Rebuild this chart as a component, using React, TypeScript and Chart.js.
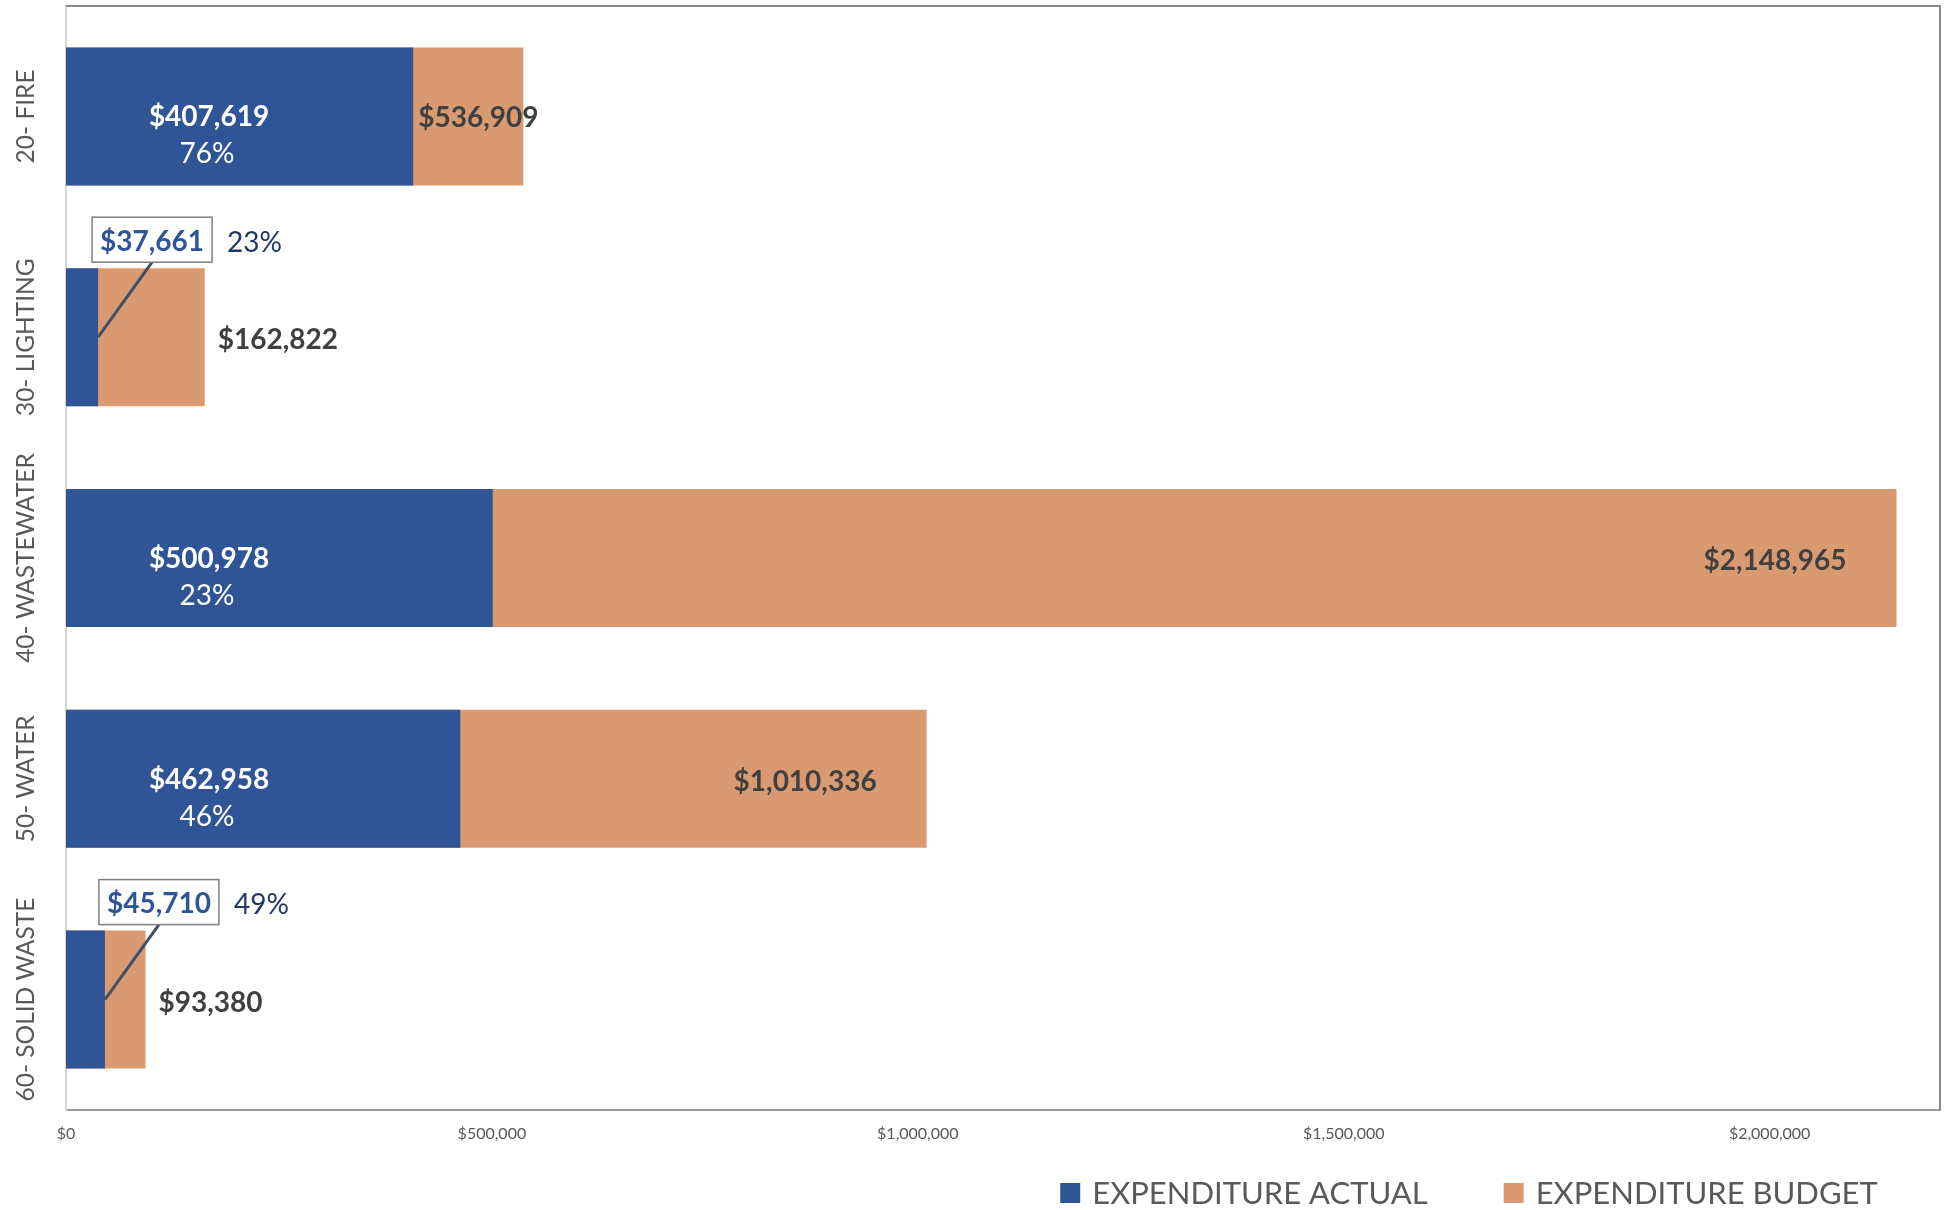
import React, { useEffect, useRef } from 'react';
import { Chart, registerables } from 'chart.js';

Chart.register(...registerables);

// ---- data ----
const categories = ['20- FIRE', '30- LIGHTING', '40- WASTEWATER', '50- WATER', '60- SOLID WASTE'];
const expenditureActual = [407619, 37661, 500978, 462958, 45710];
const expenditureBudget = [536909, 162822, 2148965, 1010336, 93380];
const seriesNames = ['EXPENDITURE ACTUAL', 'EXPENDITURE BUDGET'];
const xTickValues = [0, 500000, 1000000, 1500000, 2000000];
const xAxisMax = 2200000;

// ---- styles ----
const BLUE = '#2F5597';
const ORANGE = '#DA9A71';
const GRAY_TEXT = '#595959';
const DARK_TEXT = '#404040';
const NAVY = '#1F3864';
const FONT = 'Lato, "Open Sans", "DejaVu Sans", sans-serif';

const withCommas = (v: number) => String(Math.round(v)).replace(/\B(?=(\d{3})+(?!\d))/g, ',');
const money = (v: number) => '$' + withCommas(v);
const pct = (a: number, b: number) => Math.round((a / b) * 100) + '%';

const customDraw = {
  id: 'customDraw',
  afterDraw(chart: any) {
    const ctx: CanvasRenderingContext2D = chart.ctx;
    const area = chart.chartArea;
    ctx.save();

    // plot-area frame (top and right)
    ctx.strokeStyle = '#8a8a8a';
    ctx.lineWidth = 2;
    ctx.beginPath();
    ctx.moveTo(area.left, area.top);
    ctx.lineTo(area.right, area.top);
    ctx.lineTo(area.right, area.bottom);
    ctx.stroke();

    const metaA = chart.getDatasetMeta(0);
    const metaB = chart.getDatasetMeta(1);
    const actual = chart.data.datasets[0].data as number[];
    const budget = chart.data.datasets[1].data as number[];

    ctx.textBaseline = 'middle';

    chart.data.labels.forEach((label: string, i: number) => {
      const a = metaA.data[i].getProps(['x', 'y', 'base', 'height'], true);
      const b = metaB.data[i].getProps(['x', 'y', 'base', 'height'], true);
      const cy = a.y;

      // category label, rotated
      ctx.save();
      ctx.translate(area.left - 42, cy);
      ctx.rotate(-Math.PI / 2);
      ctx.font = `24.5px ${FONT}`;
      ctx.fillStyle = GRAY_TEXT;
      ctx.textAlign = 'center';
      ctx.fillText(label, 0, 2);
      ctx.restore();

      const actualWidth = a.x - a.base;
      const valText = money(actual[i]);
      const pctText = pct(actual[i], budget[i]);

      if (actualWidth > 200) {
        // inside label
        ctx.textAlign = 'center';
        ctx.fillStyle = '#FFFFFF';
        ctx.font = `bold 28px ${FONT}`;
        ctx.fillText(valText, area.left + 143, cy + 1);
        ctx.font = `28px ${FONT}`;
        ctx.fillText(pctText, area.left + 141, cy + 38);
      } else {
        // callout
        ctx.font = `bold 28px ${FONT}`;
        const tw = ctx.measureText(valText).width;
        const bw = tw + 16;
        const bh = 45;
        const bx = a.x - 6;
        const by = cy - a.height / 2 - 51;
        // leader line
        ctx.strokeStyle = '#404F63';
        ctx.lineWidth = 3;
        ctx.beginPath();
        ctx.moveTo(bx + bw / 2, by + bh);
        ctx.lineTo(a.x, cy);
        ctx.stroke();
        // box
        ctx.fillStyle = '#FFFFFF';
        ctx.fillRect(bx, by, bw, bh);
        ctx.strokeStyle = '#7f7f7f';
        ctx.lineWidth = 1.5;
        ctx.strokeRect(bx, by, bw, bh);
        ctx.fillStyle = BLUE;
        ctx.textAlign = 'center';
        ctx.fillText(valText, bx + bw / 2, by + bh / 2 + 2);
        ctx.font = `28px ${FONT}`;
        ctx.fillStyle = NAVY;
        ctx.textAlign = 'left';
        ctx.fillText(pctText, bx + bw + 15, by + bh / 2 + 3);
      }

      // budget label
      ctx.font = `bold 28px ${FONT}`;
      ctx.fillStyle = DARK_TEXT;
      const bText = money(budget[i]);
      const bTw = ctx.measureText(bText).width;
      const segment = b.x - a.x;
      const budgetWidth = b.x - b.base;
      if (budgetWidth < 150) {
        ctx.textAlign = 'left';
        ctx.fillText(bText, b.x + 13, cy + 3);
      } else if (segment < bTw * 2) {
        ctx.textAlign = 'left';
        ctx.fillText(bText, a.x + 5, cy + 2);
      } else {
        ctx.textAlign = 'right';
        ctx.fillText(bText, b.x - 50, cy + 3);
      }
    });

    // legend (sorted by dataset order)
    const items = chart.data.datasets
      .map((ds: any, idx: number) => ({ ds, idx }))
      .sort((p: any, q: any) => (p.ds.order ?? 0) - (q.ds.order ?? 0));
    ctx.font = `31px ${FONT}`;
    const box = 20;
    const textGap = 12;
    const itemGap = 76;
    const widths = items.map((it: any) => box + textGap + ctx.measureText(it.ds.label).width);
    const total = widths.reduce((s: number, w: number) => s + w, 0) + itemGap * (items.length - 1);
    let x = area.right - 471 - total / 2;
    const ly = 1193;
    items.forEach((it: any, k: number) => {
      ctx.fillStyle = it.ds.backgroundColor;
      ctx.fillRect(x, ly - box / 2, box, box);
      ctx.fillStyle = GRAY_TEXT;
      ctx.textAlign = 'left';
      ctx.fillText(it.ds.label, x + box + textGap, ly + 1);
      x += widths[k] + itemGap;
    });

    ctx.restore();
  },
};

export default function App() {
  const ref = useRef<HTMLCanvasElement>(null);

  useEffect(() => {
    if (!ref.current) return;
    const chart = new Chart(ref.current, {
      type: 'bar',
      data: {
        labels: categories,
        datasets: [
          {
            label: seriesNames[0],
            data: expenditureActual,
            backgroundColor: BLUE,
            order: 0,
            grouped: false,
            barPercentage: 0.625,
            categoryPercentage: 1,
          } as any,
          {
            label: seriesNames[1],
            data: expenditureBudget,
            backgroundColor: ORANGE,
            order: 1,
            grouped: false,
            barPercentage: 0.625,
            categoryPercentage: 1,
          } as any,
        ],
      },
      options: {
        indexAxis: 'y',
        responsive: false,
        animation: false,
        layout: { padding: { top: 6, right: 10, bottom: 66, left: 0 } },
        plugins: {
          legend: { display: false },
          tooltip: { enabled: false },
        },
        scales: {
          x: {
            type: 'linear',
            min: 0,
            max: xAxisMax,
            afterBuildTicks: (scale: any) => {
              scale.ticks = xTickValues.map((v) => ({ value: v }));
            },
            afterFit: (scale: any) => {
              scale.height = 34;
            },
            ticks: {
              padding: 14,
              color: GRAY_TEXT,
              font: { family: FONT, size: 16 },
              maxRotation: 0,
              autoSkip: false,
              callback: (v: any) => money(Number(v)),
            },
            grid: { display: false, drawTicks: false },
            border: { display: true, color: '#9a9a9a', width: 2 },
          },
          y: {
            type: 'category',
            afterFit: (scale: any) => {
              scale.width = 66;
            },
            ticks: { display: false },
            grid: { display: false, drawTicks: false },
            border: { display: true, color: '#d6d6d6', width: 2 },
          },
        },
      } as any,
      plugins: [customDraw],
    });
    return () => chart.destroy();
  }, []);

  return (
    <div style={{ position: 'fixed', left: 0, top: 0, width: 1950, height: 1210, background: '#ffffff' }}>
      <canvas ref={ref} width={1950} height={1210} style={{ display: 'block', width: 1950, height: 1210 }} />
    </div>
  );
}
